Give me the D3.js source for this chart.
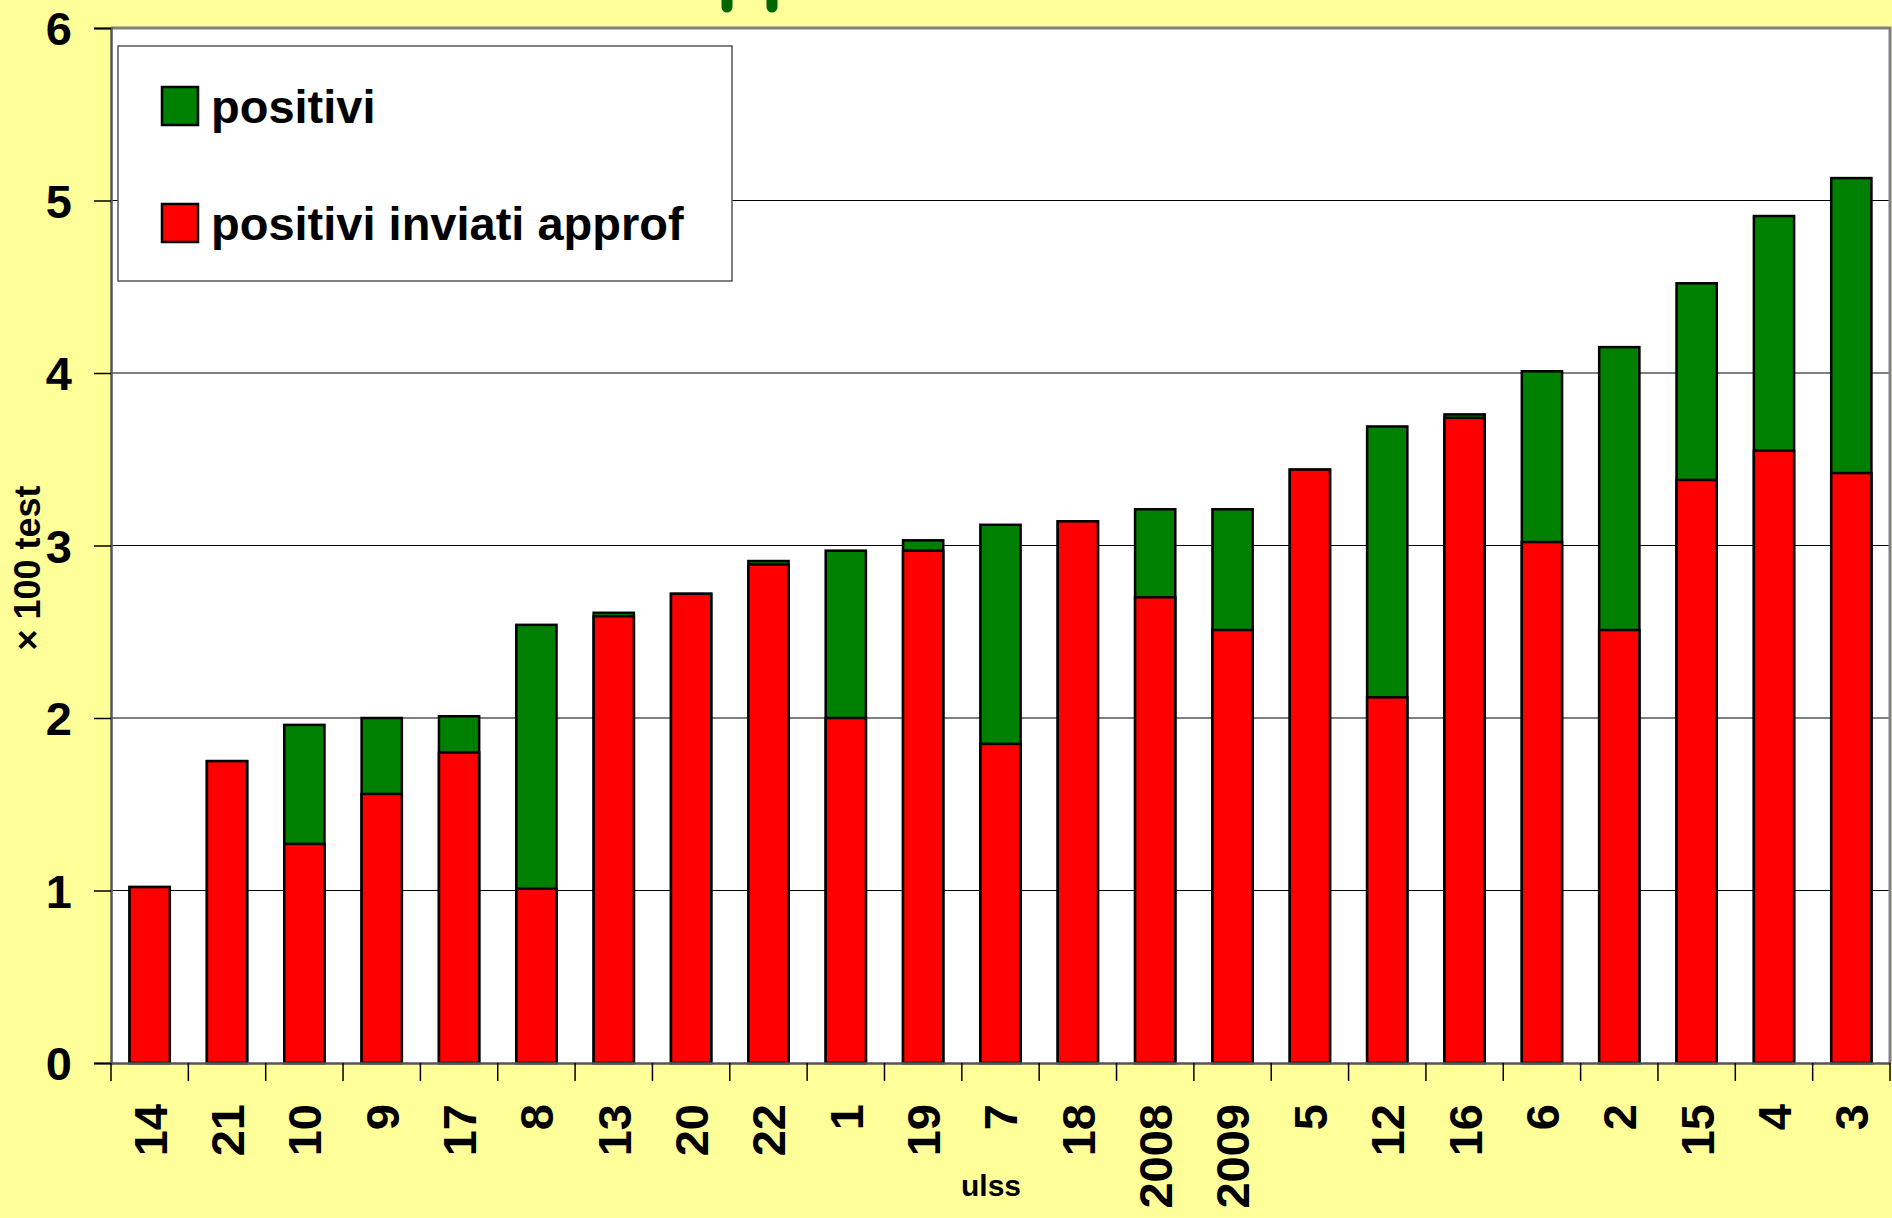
<!DOCTYPE html>
<html>
<head>
<meta charset="utf-8">
<script src="https://cdn.jsdelivr.net/npm/d3@7"></script>
<style>
  html, body { margin: 0; padding: 0; background: #ffff99; }
  svg { display: block; }
  text { font-family: "Comic Sans MS", "Liberation Sans", Arial, sans-serif; font-weight: bold; fill: #000; }
</style>
</head>
<body>
<div id="chart"></div>
<script>
// ----- dati
var ulss = ["14", "21", "10", "9", "17", "8", "13", "20", "22", "1", "19", "7", "18",
            "2008", "2009", "5", "12", "16", "6", "2", "15", "4", "3"];
// positivi (totale, barra verde)
var positivi = [1.02, 1.75, 1.96, 2.00, 2.01, 2.54, 2.61, 2.72, 2.91, 2.97, 3.03, 3.12, 3.14,
                3.21, 3.21, 3.44, 3.69, 3.76, 4.01, 4.15, 4.52, 4.91, 5.13];
// positivi inviati approf (barra rossa)
var inviati = [1.02, 1.75, 1.27, 1.56, 1.80, 1.01, 2.59, 2.72, 2.89, 2.00, 2.97, 1.85, 3.14,
               2.70, 2.51, 3.44, 2.12, 3.74, 3.02, 2.51, 3.38, 3.55, 3.42];
var yTicks = [0, 1, 2, 3, 4, 5, 6];
var legendLabels = ["positivi", "positivi inviati approf"];
var colors = ["#008000", "#ff0000"];

// ----- dimensioni
var w = 1892;
var h = 1218;
var plot = { left: 111, right: 1890, top: 28, bottom: 1063 };

var svg = d3.select('#chart').append('svg')
    .attr('width', w).attr('height', h);

svg.append('rect').attr('width', w).attr('height', h).attr('fill', '#ffff99');

// pezzi del titolo tagliato in alto (discendenti verdi)
svg.append('g').selectAll('line').data([727, 772]).enter().append('line')
    .attr('x1', d => d).attr('x2', d => d)
    .attr('y1', -10).attr('y2', 7)
    .attr('stroke', '#006600').attr('stroke-width', 11).attr('stroke-linecap', 'round');

var x = d3.scaleBand().domain(ulss).range([plot.left, plot.right]).paddingInner(0.48).paddingOuter(0.24);
var y = d3.scaleLinear().domain([0, 6]).range([plot.bottom, plot.top]);

// area del grafico
svg.append('rect')
    .attr('x', plot.left).attr('y', plot.top)
    .attr('width', plot.right - plot.left).attr('height', plot.bottom - plot.top)
    .attr('fill', '#fff');

// griglia
svg.append('g').selectAll('line').data(yTicks.slice(1, -1)).enter().append('line')
    .attr('x1', plot.left).attr('x2', plot.right)
    .attr('y1', d => y(d)).attr('y2', d => y(d))
    .attr('stroke', '#000').attr('stroke-width', 1);

// bordo superiore e destro
svg.append('path')
    .attr('d', 'M' + plot.left + ',' + plot.top + 'H' + plot.right + 'V' + plot.bottom)
    .attr('fill', 'none').attr('stroke', '#808080').attr('stroke-width', 3);

// barre: verde = positivi, rossa = inviati sovrapposta
var bars = svg.append('g');
bars.selectAll('rect.pos').data(positivi).enter().append('rect')
    .attr('class', 'pos')
    .attr('x', (d, i) => x(ulss[i])).attr('width', x.bandwidth())
    .attr('y', d => y(d)).attr('height', d => y(0) - y(d))
    .attr('fill', colors[0]).attr('stroke', '#000').attr('stroke-width', 2.5);
bars.selectAll('rect.inv').data(inviati).enter().append('rect')
    .attr('class', 'inv')
    .attr('x', (d, i) => x(ulss[i])).attr('width', x.bandwidth())
    .attr('y', d => y(d)).attr('height', d => y(0) - y(d))
    .attr('fill', colors[1]).attr('stroke', '#000').attr('stroke-width', 2.5);

// asse y
var yAxis = svg.append('g').attr('transform', 'translate(' + plot.left + ',0)')
    .call(d3.axisLeft(y).tickValues(yTicks).tickSize(17).tickPadding(22).tickFormat(d3.format('d')));
yAxis.select('.domain').attr('stroke', '#555').attr('stroke-width', 2.5);
yAxis.selectAll('.tick line').attr('stroke', '#000').attr('stroke-width', 1.5);
yAxis.selectAll('.tick text')
    .style('font-family', '"Liberation Sans", Arial, sans-serif')
    .style('font-size', '47px').attr('dy', '0.36em');

// asse x
var xAxis = svg.append('g').attr('transform', 'translate(0,' + plot.bottom + ')')
    .call(d3.axisBottom(x).tickSize(0).tickSizeOuter(0));
xAxis.select('.domain').attr('stroke', '#555').attr('stroke-width', 2.5);
xAxis.selectAll('.tick text')
    .style('font-family', '"Liberation Sans", Arial, sans-serif')
    .style('font-size', '47px')
    .attr('text-anchor', 'end')
    .attr('transform', 'translate(0,41) rotate(-90)')
    .attr('x', 0).attr('y', 0).attr('dy', '0.36em');

// tacche tra le categorie
var step = x.step();
svg.append('g').selectAll('line').data(d3.range(ulss.length + 1)).enter().append('line')
    .attr('x1', i => plot.left + i * step).attr('x2', i => plot.left + i * step)
    .attr('y1', plot.bottom).attr('y2', plot.bottom + 18)
    .attr('stroke', '#000').attr('stroke-width', 1.5);

// titoli assi
svg.append('text')
    .attr('transform', 'translate(40,568) rotate(-90)')
    .attr('text-anchor', 'middle')
    .style('font-size', '36px')
    .text('\u00d7 100 test');

svg.append('text')
    .attr('x', 991).attr('y', 1196)
    .attr('text-anchor', 'middle')
    .style('font-size', '30px')
    .text('ulss');

// legenda
var legend = svg.append('g').attr('transform', 'translate(118,46)');
legend.append('rect')
    .attr('width', 614).attr('height', 235)
    .attr('fill', '#fff').attr('stroke', '#555').attr('stroke-width', 1.5);
var li = legend.selectAll('g.item').data(legendLabels).enter().append('g')
    .attr('class', 'item')
    .attr('transform', (d, i) => 'translate(44,' + (41 + i * 117) + ')');
li.append('rect')
    .attr('width', 36).attr('height', 38)
    .attr('fill', (d, i) => colors[i]).attr('stroke', '#000').attr('stroke-width', 2.5);
li.append('text')
    .attr('x', 49).attr('y', 36)
    .style('font-size', '47px')
    .text(d => d);
</script>
</body>
</html>
